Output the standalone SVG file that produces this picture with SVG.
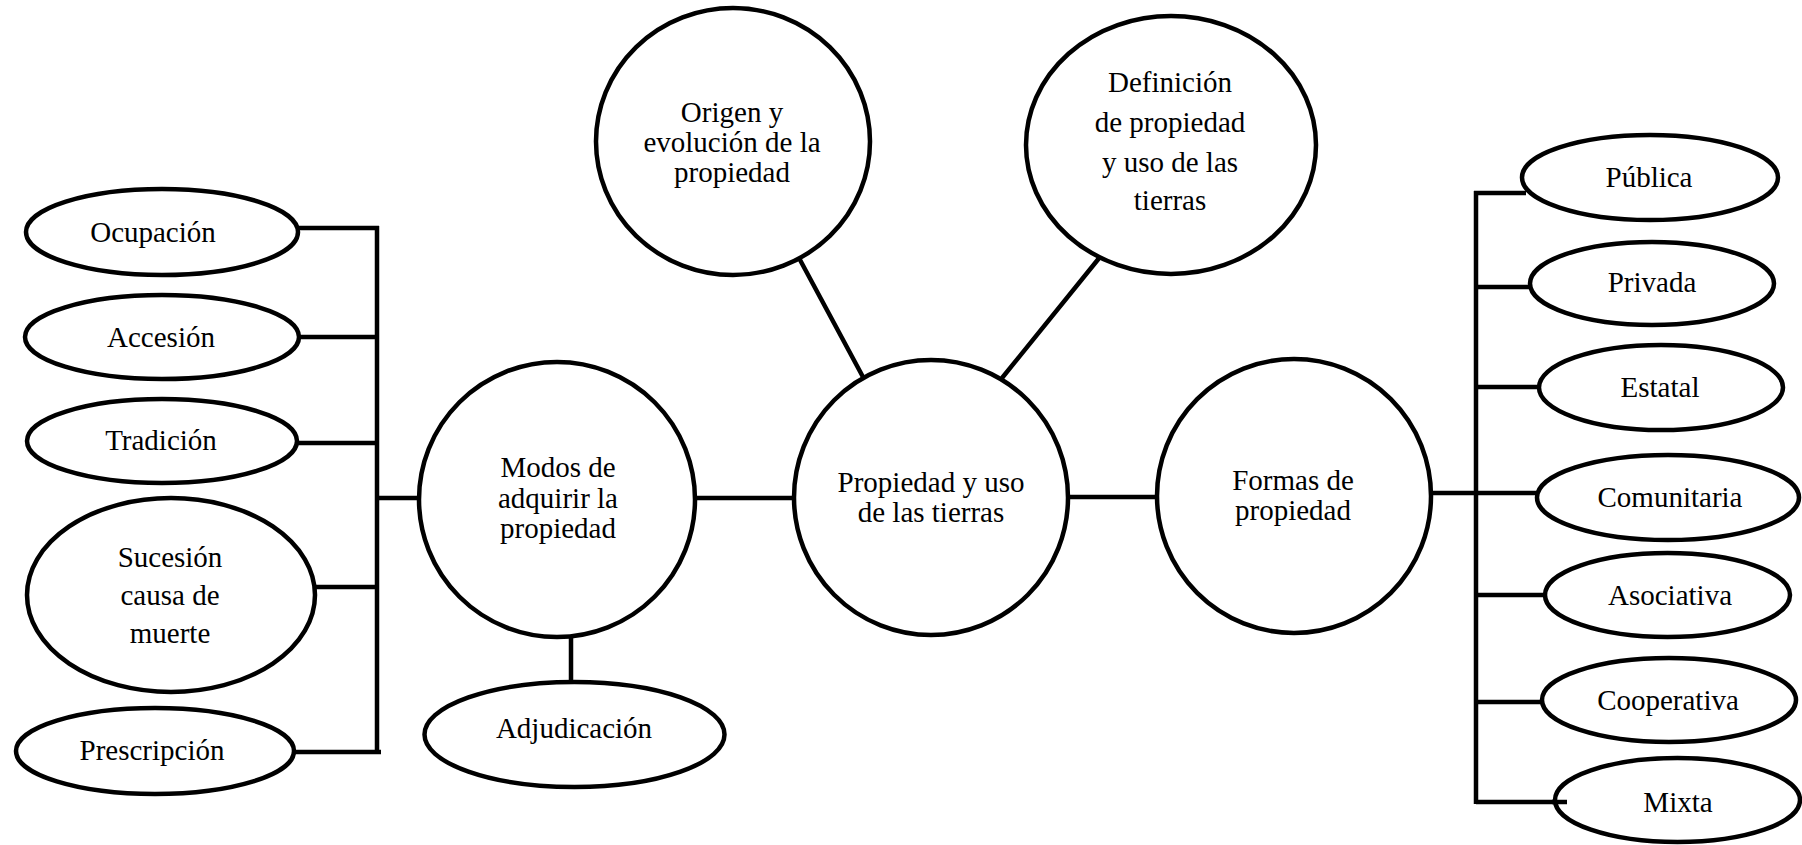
<svg xmlns="http://www.w3.org/2000/svg" width="1802" height="845" viewBox="0 0 1802 845" font-family="Liberation Serif, DejaVu Serif, serif" font-size="29" text-anchor="middle">
<style>
.n{fill:#fff;stroke:#000;stroke-width:4.5}
.c{fill:none;stroke:#000;stroke-width:4.5;stroke-linecap:butt}
</style>
<rect width="1802" height="845" fill="#fff"/>
<g id="connectors">
<path class="c" d="M298 228H379M377 226V754M298 337H377M297 443H377M315 587H377M293 752H381M377 498H421"/>
<path class="c" d="M695 498H796M571 637V684M1068 497H1159"/>
<path class="c" d="M799 258L863 377M1100 257L1002 378"/>
<path class="c" d="M1431 493H1539M1476 191V804M1474 193H1526M1476 287H1532M1476 387H1541M1476 595H1547M1476 702H1544M1476 802H1567"/>
</g>
<g id="n-ocupacion"><ellipse class="n" cx="162" cy="232" rx="136" ry="43"/><text x="153" y="242">Ocupación</text></g>
<g id="n-accesion"><ellipse class="n" cx="162" cy="337" rx="137" ry="42"/><text x="161" y="347">Accesión</text></g>
<g id="n-tradicion"><ellipse class="n" cx="162" cy="441" rx="135" ry="42"/><text x="161" y="450">Tradición</text></g>
<g id="n-sucesion"><ellipse class="n" cx="171" cy="595" rx="144" ry="97"/><text x="170" y="567">Sucesión</text><text x="170" y="605">causa de</text><text x="170" y="643">muerte</text></g>
<g id="n-prescripcion"><ellipse class="n" cx="155" cy="751" rx="139" ry="43"/><text x="152" y="760">Prescripción</text></g>
<g id="n-modos"><ellipse class="n" cx="557" cy="499.5" rx="138" ry="137.5"/><text x="558" y="477">Modos de</text><text x="558" y="508">adquirir la</text><text x="558" y="538">propiedad</text></g>
<g id="n-adjudicacion"><ellipse class="n" cx="574.5" cy="734.5" rx="150" ry="52.5"/><text x="574" y="738">Adjudicación</text></g>
<g id="n-propiedad"><ellipse class="n" cx="931" cy="497.5" rx="137" ry="137.5"/><text x="931" y="492">Propiedad y uso</text><text x="931" y="522">de las tierras</text></g>
<g id="n-origen"><ellipse class="n" cx="733" cy="141.5" rx="137" ry="133.5"/><text x="732" y="122">Origen y</text><text x="732" y="152">evolución de la</text><text x="732" y="182">propiedad</text></g>
<g id="n-definicion"><ellipse class="n" cx="1171" cy="145" rx="145" ry="129"/><text x="1170" y="92">Definición</text><text x="1170" y="132">de propiedad</text><text x="1170" y="172">y uso de las</text><text x="1170" y="210">tierras</text></g>
<g id="n-formas"><ellipse class="n" cx="1294" cy="496" rx="137" ry="137"/><text x="1293" y="490">Formas de</text><text x="1293" y="520">propiedad</text></g>
<g id="n-publica"><ellipse class="n" cx="1650" cy="177.5" rx="128" ry="42.5"/><text x="1649" y="187">Pública</text></g>
<g id="n-privada"><ellipse class="n" cx="1652" cy="283.5" rx="122" ry="41.5"/><text x="1652" y="292">Privada</text></g>
<g id="n-estatal"><ellipse class="n" cx="1661" cy="387.5" rx="122" ry="42.5"/><text x="1660" y="397">Estatal</text></g>
<g id="n-comunitaria"><ellipse class="n" cx="1668" cy="497.5" rx="131" ry="42.5"/><text x="1670" y="507">Comunitaria</text></g>
<g id="n-asociativa"><ellipse class="n" cx="1667.5" cy="595" rx="122.5" ry="42"/><text x="1670" y="605">Asociativa</text></g>
<g id="n-cooperativa"><ellipse class="n" cx="1669" cy="700" rx="127" ry="42"/><text x="1668" y="710">Cooperativa</text></g>
<g id="n-mixta"><ellipse class="n" cx="1677.5" cy="800" rx="122.5" ry="42"/><text x="1678" y="812">Mixta</text></g>
<path class="c" d="M1552 802H1567"/>
</svg>
